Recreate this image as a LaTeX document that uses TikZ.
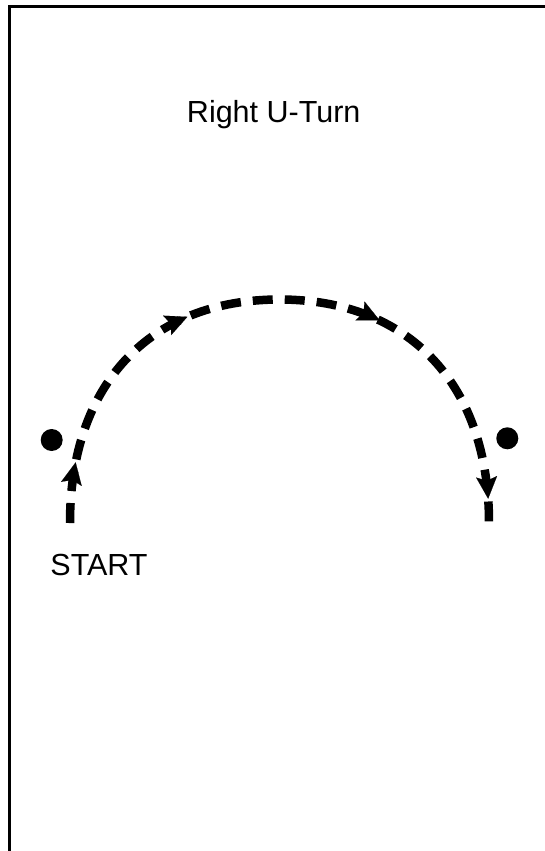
\documentclass[tikz,border=0pt]{standalone}
\usepackage{fontspec}
\setmainfont{Liberation Sans}
\usetikzlibrary{arrows.meta,decorations.markings}
\newcommand{\routetip}{\arrow[solid]{Stealth[length=22pt,width=21pt,inset=4pt,line width=0.1pt]}}
\begin{document}
\begin{tikzpicture}[x=1pt,y=-1pt,
  frame/.style={line width=3pt},
  lbl/.style={font=\fontsize{30.5}{36}\selectfont, inner sep=0pt, anchor=base},
  dot/.style={circle, fill=black, inner sep=0pt, minimum size=22pt},
  route/.style={line width=8.5pt, dash pattern=on 20pt off 12pt}
]
\useasboundingbox (0,0) rectangle (544,851);
% frame (cut off at right and bottom)
\coordinate (fbl) at (9.5,853);
\coordinate (ftl) at (9.5,6.5);
\coordinate (ftr) at (546,6.5);
\draw[frame] (fbl) -- (ftl) -- (ftr);
% labels
\node[lbl] (title) at (273.7,122.3) {Right U-Turn};
\node[lbl] (start) at (99,575) {START};
% cones
\node[dot] (dl) at (51.7,440) {};
\node[dot] (dr) at (507.3,438.3) {};
% path
\coordinate (s) at (70,523);
\coordinate (top) at (279.5,299.5);
\coordinate (e) at (489,523);
\draw[route, postaction={decorate},
  decoration={markings,
    mark=at position 0.088 with {\routetip},
    mark=at position 0.364 with {\routetip},
    mark=at position 0.649 with {\routetip},
    mark=at position 0.965 with {\routetip}}]
  (s) .. controls (70,384.4) and (149.6,299.5) .. (top)
      .. controls (409.4,299.5) and (489,384.4) .. (e);
\end{tikzpicture}
\end{document}
